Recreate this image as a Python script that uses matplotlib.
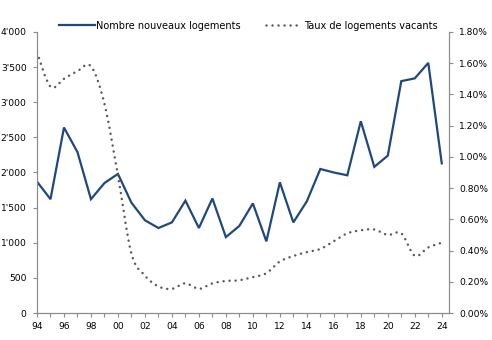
import matplotlib
matplotlib.use("Agg")
import matplotlib.pyplot as plt
from matplotlib.path import Path
from matplotlib.patches import PathPatch
from matplotlib.lines import Line2D
from matplotlib.ticker import FuncFormatter, MultipleLocator

years = list(range(1994, 2025))
logements = [1870, 1620, 2640, 2290, 1620, 1850, 1980, 1570, 1320, 1210,
             1290, 1600, 1210, 1630, 1080, 1240, 1560, 1020, 1860, 1290,
             1590, 2050, 2000, 1960, 2730, 2080, 2240, 3300, 3340, 3560, 2130]
vacants = [1.67, 1.45, 1.50, 1.55, 1.58, 1.34, 0.88, 0.38, 0.24, 0.17,
           0.155, 0.19, 0.155, 0.19, 0.205, 0.21, 0.23, 0.255, 0.33, 0.365,
           0.39, 0.41, 0.46, 0.51, 0.53, 0.535, 0.50, 0.51, 0.367, 0.42, 0.45]

blue = "#1F497D"
grey = "#595959"
axis_col = "#8C8C8C"
tick_fs = 6.6
leg_fs = 7.0
dots = (0, (0.01, 2.4))

plt.rcParams["font.family"] = "DejaVu Sans"

fig = plt.figure(figsize=(4.92, 3.40), dpi=100)
ax = fig.add_axes([0.0752, 0.0794, 0.8364, 0.8265])
ax2 = ax.twinx()

ax.plot(years, logements, color=blue, lw=1.6, solid_joinstyle="miter", zorder=3)


# smoothed curve like excel (catmull-rom bezier through the points)
def smooth_path(xs, ys):
    pts = list(zip(xs, ys))
    verts = [pts[0]]
    codes = [Path.MOVETO]
    n = len(pts)
    for i in range(n - 1):
        p0 = pts[max(i - 1, 0)]
        p1 = pts[i]
        p2 = pts[i + 1]
        p3 = pts[min(i + 2, n - 1)]
        c1 = (p1[0] + (p2[0] - p0[0]) / 6, p1[1] + (p2[1] - p0[1]) / 6)
        c2 = (p2[0] - (p3[0] - p1[0]) / 6, p2[1] - (p3[1] - p1[1]) / 6)
        verts += [c1, c2, p2]
        codes += [Path.CURVE4] * 3
    return Path(verts, codes)


patch = PathPatch(smooth_path(years, vacants), fill=False, edgecolor=grey,
                  lw=1.8, linestyle=dots, capstyle="round")
ax2.add_patch(patch)

ax.set_xlim(1994, 2024.5)
ax.set_ylim(0, 4000)
ax2.set_ylim(0, 1.8)

ax.xaxis.set_major_locator(MultipleLocator(1))
ax.xaxis.set_major_formatter(FuncFormatter(
    lambda v, p: "%02d" % (int(round(v)) % 100) if int(round(v)) % 2 == 0 else ""))
ax.yaxis.set_major_locator(MultipleLocator(500))
ax.yaxis.set_major_formatter(FuncFormatter(
    lambda v, p: "{:,.0f}".format(v).replace(",", "'")))
ax2.yaxis.set_major_locator(MultipleLocator(0.2))
ax2.yaxis.set_major_formatter(FuncFormatter(lambda v, p: "%.2f%%" % v))

for a in (ax, ax2):
    a.spines["top"].set_visible(False)
    for s in ("left", "right", "bottom"):
        a.spines[s].set_color(axis_col)
        a.spines[s].set_linewidth(0.8)
    a.tick_params(colors=axis_col, labelcolor="black", labelsize=tick_fs,
                  length=3, width=0.8, pad=4.5)
ax.tick_params(axis="x", pad=3.5)

handles = [Line2D([], [], color=blue, lw=1.6),
           Line2D([], [], color=grey, lw=1.8, linestyle=dots,
                  dash_capstyle="round")]
ax.legend(handles, ["Nombre nouveaux logements", "Taux de logements vacants"],
          ncol=2, loc="lower center", bbox_to_anchor=(0.513, 1.005),
          frameon=False, fontsize=leg_fs, handlelength=3.7, handletextpad=0.15,
          columnspacing=2.6, borderaxespad=0, borderpad=0)

fig.savefig("out.png", dpi=100)
